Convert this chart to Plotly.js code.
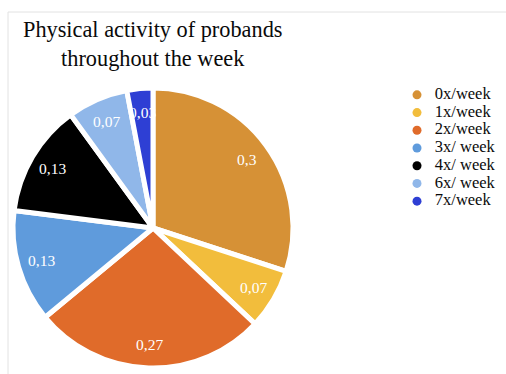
<!DOCTYPE html>
<html>
<head>
<meta charset="utf-8">
<script src="https://cdn.plot.ly/plotly-3.0.1.min.js"></script>
<style>
  html, body { margin: 0; padding: 0; background: #ffffff; }
  #chart { width: 506px; height: 374px; }
</style>
</head>
<body>
<div id="chart"></div>
<script>
// Weekly activity frequency of the probands (share of respondents)
const categories = ['0x/week', '1x/week', '2x/week', '3x/ week', '4x/ week', '6x/ week', '7x/week'];
const shares = [0.30, 0.07, 0.27, 0.13, 0.13, 0.07, 0.03];
const sliceColors = ['#D69136', '#F2BD3C', '#E06B2A', '#5F9BDC', '#000000', '#90B7E9', '#2E3FD4'];

const W = 506, H = 374;
const serif = '"Liberation Serif", "Times New Roman", serif';
const pieDomain = { x: [13 / W, 293 / W], y: [6 / H, 286 / H] };

// Pie slices, starting at 12 o'clock and running clockwise
const pieTrace = {
  type: 'pie',
  labels: categories,
  values: shares,
  sort: false,
  direction: 'clockwise',
  rotation: 0,
  showlegend: false,
  marker: { colors: sliceColors, line: { color: '#ffffff', width: 5 } },
  textinfo: 'none',
  hoverinfo: 'label+value',
  domain: pieDomain
};

// Value labels placed along each slice's bisector
const pieCx = (pieDomain.x[0] + pieDomain.x[1]) / 2 * W;
const pieCy = (1 - (pieDomain.y[0] + pieDomain.y[1]) / 2) * H;
const pieR = Math.min((pieDomain.x[1] - pieDomain.x[0]) * W, (pieDomain.y[1] - pieDomain.y[0]) * H) / 2;
const total = shares.reduce((a, b) => a + b, 0);
const fmt = v => String(+v.toFixed(2)).replace('.', ',');
let cum = 0;
const valueLabels = shares.map(v => {
  const mid = (cum + v / 2) / total * 2 * Math.PI;
  cum += v;
  const r = pieR * 0.83;
  const px = pieCx + r * Math.sin(mid);
  const py = pieCy - r * Math.cos(mid);
  return {
    xref: 'paper', yref: 'paper',
    x: px / W, y: 1 - py / H,
    xanchor: 'center', yanchor: 'middle',
    text: fmt(v),
    showarrow: false,
    font: { family: serif, size: 15.5, color: '#ffffff' }
  };
});

// Legend: round markers with category names, one row per category
const legendMarkers = {
  type: 'scatter',
  mode: 'markers',
  x: categories.map(() => 0),
  y: categories,
  marker: { symbol: 'circle', size: 9, color: sliceColors },
  showlegend: false,
  hoverinfo: 'skip',
  cliponaxis: false
};
const legendNames = {
  type: 'scatter',
  mode: 'text',
  x: categories.map(() => 0.2),
  y: categories,
  text: categories,
  textposition: 'middle right',
  textfont: { family: serif, size: 16.5, color: '#0a0a0a' },
  showlegend: false,
  hoverinfo: 'skip',
  cliponaxis: false
};

const layout = {
  width: W,
  height: H,
  margin: { l: 0, r: 0, t: 0, b: 0 },
  paper_bgcolor: '#ffffff',
  plot_bgcolor: 'rgba(0,0,0,0)',
  showlegend: false,
  xaxis: {
    visible: false, range: [0, 1], fixedrange: true,
    domain: [417 / W, 1]
  },
  yaxis: {
    visible: false, type: 'category', categoryorder: 'array', categoryarray: categories,
    range: [categories.length - 0.5, -0.5], fixedrange: true,
    domain: [1 - 210 / H, 1 - 86 / H]
  },
  annotations: [{
    xref: 'paper', yref: 'paper',
    x: 152 / W, y: 1 - 15 / H,
    xanchor: 'center', yanchor: 'top',
    align: 'center',
    text: 'Physical activity of probands<br>throughout the week',
    showarrow: false,
    font: { family: serif, size: 22.3, color: '#0a0a0a' }
  }, ...valueLabels],
  shapes: [{
    type: 'rect',
    xref: 'paper', yref: 'paper',
    x0: 8 / W, x1: 1.01,
    y0: -0.01, y1: 1 - 12 / H,
    line: { color: '#e2e2e2', width: 1 },
    layer: 'below'
  }]
};

Plotly.newPlot('chart', [pieTrace, legendMarkers, legendNames], layout, { displayModeBar: false, staticPlot: true });
</script>
</body>
</html>
